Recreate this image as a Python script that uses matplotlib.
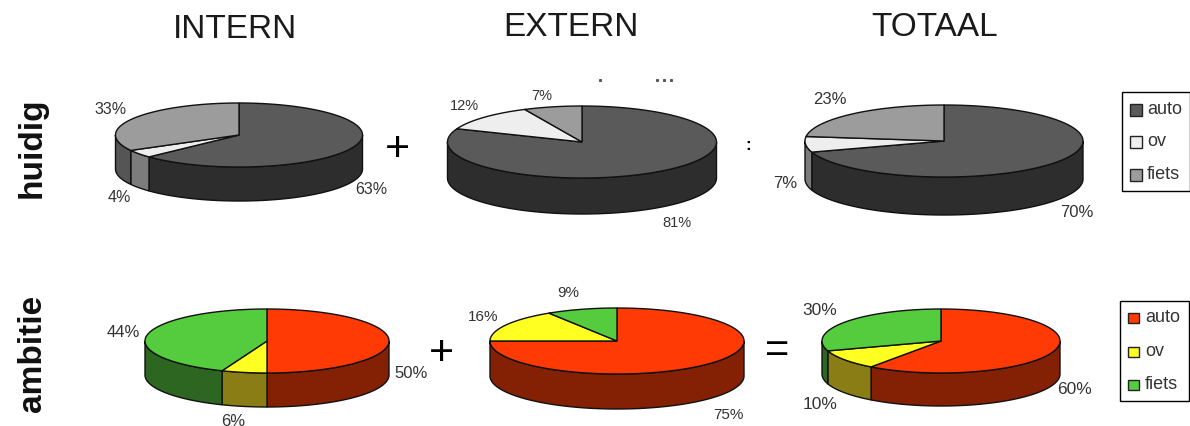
import numpy as np
import matplotlib
matplotlib.use("Agg")
import matplotlib.pyplot as plt
from matplotlib.patches import Polygon, Rectangle

plt.rcParams['font.family'] = ['Liberation Sans', 'DejaVu Sans']

modes = ["auto", "ov", "fiets"]
columns = ["INTERN", "EXTERN", "TOTAAL"]
rows = ["huidig", "ambitie"]

huidig_intern = [63, 4, 33]
huidig_extern = [81, 12, 7]
huidig_totaal = [70, 7, 23]
ambitie_intern = [50, 6, 44]
ambitie_extern = [75, 16, 9]
ambitie_totaal = [60, 10, 30]

grey_top = ["#5a5a5a", "#eeeeee", "#9c9c9c"]
grey_side = ["#2d2d2d", "#7c7c7c", "#555555"]
colour_top = ["#ff3a05", "#ffff22", "#55cc3e"]
colour_side = ["#842003", "#8b7d16", "#2d6620"]

fig = plt.figure(figsize=(11.9, 4.27), dpi=100)
ax = fig.add_axes([0, 0, 1, 1])
ax.set_xlim(0, 1190)
ax.set_ylim(427, 0)     # pixel coordinates, y runs down
ax.axis("off")


def rim(cx, cy, a, b, start, stop):
    # angles are clockwise from 12 o'clock, in degrees
    t = np.radians(np.arange(start, stop, 1.0).tolist() + [stop])
    return np.column_stack((cx + a * np.sin(t), cy - b * np.cos(t)))


def pie3d(values, cx, cy, a, b, depth, top, side):
    edges = np.cumsum([0] + values) / sum(values) * 360
    # side walls first, only the front half (90..270) can be seen
    for i in range(len(values)):
        start = max(edges[i], 90)
        stop = min(edges[i + 1], 270)
        if stop <= start:
            continue
        upper = rim(cx, cy, a, b, start, stop)
        lower = upper[::-1] + [0, depth]
        ax.add_patch(Polygon(np.vstack((upper, lower)), closed=True, fc=side[i], ec="#111111", lw=1.0, zorder=2))
    for i in range(len(values)):
        arc = rim(cx, cy, a, b, edges[i], edges[i + 1])
        ax.add_patch(Polygon(np.vstack(([[cx, cy]], arc)), closed=True, fc=top[i], ec="#111111", lw=1.0, zorder=3))


def slice_labels(values, spots, size):
    for v, (x, y) in zip(values, spots):
        ax.text(x, y, str(v) + "%", fontsize=size, color="#333333", ha="center", va="center", zorder=5)


pie3d(huidig_intern, 239, 136, 123.5, 32, 34, grey_top, grey_side)
pie3d(huidig_extern, 582, 143, 134.5, 36, 36, grey_top, grey_side)
pie3d(huidig_totaal, 944, 142, 139, 36, 38, grey_top, grey_side)
pie3d(ambitie_intern, 267, 342, 122, 32, 34, colour_top, colour_side)
pie3d(ambitie_extern, 617, 342, 127, 33, 35, colour_top, colour_side)
pie3d(ambitie_totaal, 941, 342, 119, 32, 33, colour_top, colour_side)

slice_labels(huidig_intern, [(371, 190), (119, 198), (111, 110)], 11.5)
slice_labels(huidig_extern, [(677, 223), (464, 106), (542, 96)], 10.5)
slice_labels(huidig_totaal, [(1077, 213), (785, 184), (830, 99)], 12)
slice_labels(ambitie_intern, [(411, 374), (233, 422), (123, 333)], 12)
slice_labels(ambitie_extern, [(728, 415), (483, 317), (568, 293)], 11)
slice_labels(ambitie_totaal, [(1075, 390), (820, 405), (820, 311)], 12.5)

# column and row headings
for name, x, y in zip(columns, [235, 571, 935], [29, 27, 27]):
    ax.text(x, y, name, fontsize=24, family=['Liberation Sans Narrow', 'Liberation Sans'], color="#1a1a1a", ha="center", va="center")
for name, y in zip(rows, [148, 353]):
    ax.text(32, y, name, fontsize=24, fontweight="bold", color="#111111", rotation=90, ha="center", va="center")

# the plus signs are cut off on their left side
for x, y in [(397, 146), (441, 350)]:
    plus = ax.text(x, y, "+", fontsize=31, color="black", ha="center", va="center_baseline")
    plus.set_clip_path(Rectangle((x - 1.5, y - 20), 30, 40, transform=ax.transData))
ax.text(748, 146, ":", fontsize=12, fontweight="bold", color="black", ha="center", va="center")
ax.text(777.5, 351, "=", fontsize=30, color="black", ha="center", va="center")

# scraps of a cut off line above the middle pie
ax.plot([600, 657, 664, 671], [81, 81, 81, 81], ls="none", marker="s", ms=1.2, color="#555555")


def legend_box(x0, y0, x1, y1, colours, ys, sw):
    ax.add_patch(Rectangle((x0, y0), x1 - x0, y1 - y0, fc="white", ec="black", lw=1.0, zorder=2))
    for name, c, y in zip(modes, colours, ys):
        ax.add_patch(Rectangle((x0 + 8, y - sw / 2), sw, sw, fc=c, ec="#222222", lw=1.0, zorder=3))
        ax.text(x0 + 25, y - 1, name, fontsize=13, color="#333333", ha="left", va="center", zorder=3)


legend_box(1122, 93, 1189.5, 192, grey_top, [111, 143, 176], 11.5)
legend_box(1120, 302, 1189, 402, colour_top, [319, 353, 386], 10.5)

fig.savefig("out.png", dpi=100)
